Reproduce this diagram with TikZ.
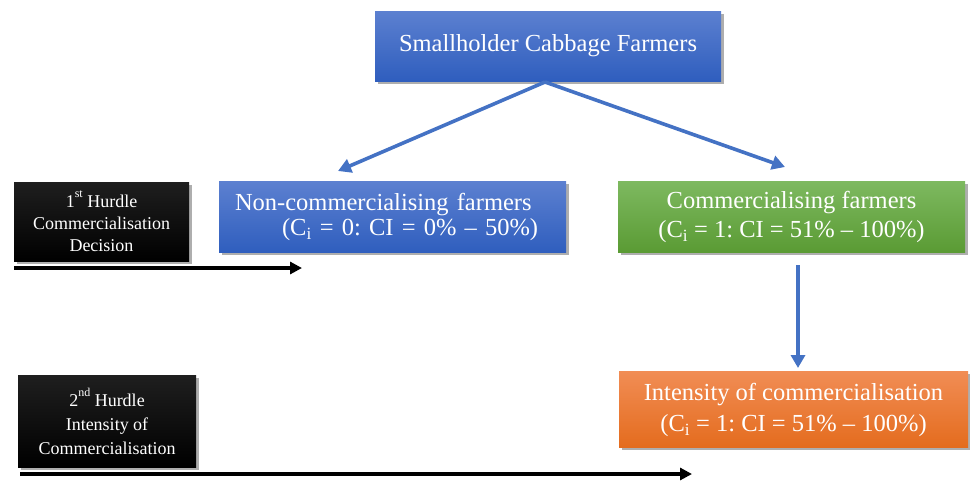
\documentclass[tikz,border=0pt]{standalone}
\usepackage{fontspec}
\setmainfont{Liberation Serif}
\usetikzlibrary{arrows.meta,shadows}
\definecolor{bluetop}{RGB}{92,128,208}
\definecolor{bluebot}{RGB}{47,94,190}
\definecolor{greentop}{RGB}{126,185,96}
\definecolor{greenbot}{RGB}{90,155,52}
\definecolor{orangetop}{RGB}{241,141,85}
\definecolor{orangebot}{RGB}{228,108,30}
\definecolor{arrowblue}{RGB}{68,114,196}
\newcommand{\hsup}[1]{\raisebox{0.55em}{\fontsize{12}{12}\selectfont #1}}
\tikzset{
  box/.style={rectangle, text=white, inner sep=0pt, align=center,
    drop shadow={shadow xshift=2.5pt, shadow yshift=-2.5pt, opacity=0.45, fill=black!70}},
  bluebox/.style={box, top color=bluetop, bottom color=bluebot, font=\frenchspacing\fontsize{24.5}{27}\selectfont},
  greenbox/.style={box, top color=greentop, bottom color=greenbot, font=\frenchspacing\fontsize{24.5}{29}\selectfont},
  orangebox/.style={box, top color=orangetop, bottom color=orangebot, font=\frenchspacing\fontsize{24.5}{31}\selectfont},
  blackbox/.style={box, top color=black!88, bottom color=black, font=\fontsize{18}{22}\selectfont},
  bluearrow/.style={draw=arrowblue, line width=3.6pt, -{Triangle[length=13pt,width=14pt]}},
  blackarrow/.style={draw=black, line width=3.6pt, -{Triangle[length=12pt,width=12pt]}},
}
\begin{document}
\begin{tikzpicture}[x=1pt,y=-1pt]
\useasboundingbox (0,0) rectangle (970,480);
\node[bluebox, minimum width=346pt, minimum height=70pt] (top) at (548,46) {\raisebox{-3pt}{Smallholder Cabbage Farmers}};
\node[bluebox, minimum width=347pt, minimum height=71pt, text width=315pt, align=left] (non) at (392.5,217)
  {\raisebox{-2pt}{Non-commercialising farmers}\\\hspace*{47pt}\mbox{(C\textsubscript{i} = 0: CI = 0\% – 50\%)}};
\node[greenbox, minimum width=347pt, minimum height=71pt, text depth=4pt] (com) at (791.5,216.5)
  {Commercialising farmers\\(C\textsubscript{i} = 1: CI = 51\% – 100\%)};
\node[orangebox, minimum width=349pt, minimum height=76pt, text depth=3pt] (int) at (793.5,409)
  {Intensity of commercialisation\\(C\textsubscript{i} = 1: CI = 51\% – 100\%)};
\node[blackbox, minimum width=175pt, minimum height=79pt] (h1) at (101.5,221.5)
  {1\hsup{st} Hurdle\\Commercialisation\\Decision};
\node[blackbox, minimum width=178pt, minimum height=92pt, font=\fontsize{18}{24}\selectfont] (h2) at (107,421)
  {2\hsup{nd} Hurdle\\Intensity of\\Commercialisation};
\coordinate (split) at (545,82);
\coordinate (lend) at (338,171);
\coordinate (rend) at (785,167);
\coordinate (vs) at (798,265);
\coordinate (ve) at (798,368);
\coordinate (a1s) at (14,268);
\coordinate (a1e) at (302,268);
\coordinate (a2s) at (20,474);
\coordinate (a2e) at (692,474);
\draw[bluearrow] (split) -- (lend);
\draw[bluearrow] (split) -- (rend);
\draw[bluearrow] (vs) -- (ve);
\draw[blackarrow] (a1s) -- (a1e);
\draw[blackarrow] (a2s) -- (a2e);
\end{tikzpicture}
\end{document}
